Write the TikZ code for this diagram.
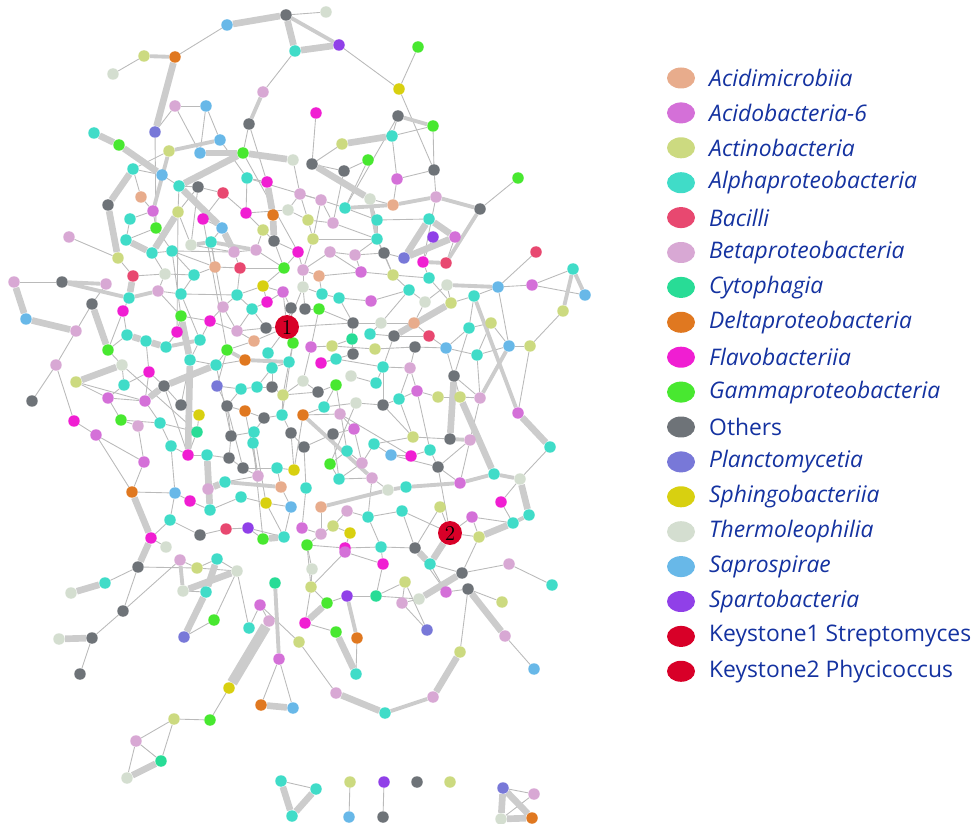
\documentclass[tikz,border=0pt]{standalone}
\usepackage{fontspec}
\setsansfont{Open Sans}
\usetikzlibrary{shapes.geometric,backgrounds}

\definecolor{cacm}{RGB}{232,172,140}
\definecolor{cac6}{RGB}{212,112,216}
\definecolor{cact}{RGB}{204,218,128}
\definecolor{calp}{RGB}{64,220,200}
\definecolor{cbac}{RGB}{232,72,112}
\definecolor{cbet}{RGB}{216,168,212}
\definecolor{ccyt}{RGB}{40,220,150}
\definecolor{cdel}{RGB}{224,120,32}
\definecolor{cfla}{RGB}{240,30,210}
\definecolor{cgam}{RGB}{72,232,48}
\definecolor{coth}{RGB}{110,115,120}
\definecolor{cpla}{RGB}{120,120,216}
\definecolor{csph}{RGB}{216,208,16}
\definecolor{cthe}{RGB}{212,222,208}
\definecolor{csap}{RGB}{104,184,232}
\definecolor{cspa}{RGB}{144,64,232}
\definecolor{ckey}{RGB}{216,0,40}
\definecolor{cleg}{RGB}{20,50,160}

\begin{document}
\begin{tikzpicture}[x=0.02cm,y=-0.02cm,
  dot/.style={circle,inner sep=0pt,minimum size=0.23cm},
  keyst/.style={circle,inner sep=0pt,minimum size=0.48cm,fill=ckey,font=\large},
  lnk/.style={draw=black!27,line width=0.5pt},
  midlnk/.style={draw=black!20,line width=2.2pt},
  thklnk/.style={draw=black!20,line width=3.8pt},
  legdot/.style={ellipse,inner sep=0pt,minimum width=0.56cm,minimum height=0.42cm},
  legtxt/.style={anchor=west,text=cleg,font=\sffamily\fontsize{13}{15}\selectfont}]

\useasboundingbox (0,0) rectangle (971,824);

% network nodes
\foreach \i/\x/\y/\c in {
  1/227/25/sap, 2/286/15/oth, 3/295/51/alp, 4/175/57/del, 5/144/56/act,
  6/113/74/the, 7/263/92/bet, 8/175/106/bet, 9/206/106/sap, 10/249/124/oth,
  11/155/132/pla, 12/94/133/alp, 13/119/145/gam, 14/169/151/act, 15/220/140/sap,
  16/200/153/sap, 17/243/153/gam, 18/293/160/the, 19/133/169/alp, 20/162/175/sap,
  21/179/186/alp, 22/198/187/oth, 23/247/178/alp, 24/267/182/fla, 25/223/193/bac,
  26/300/194/bet, 27/141/197/acm, 28/108/205/oth, 29/153/211/ac6, 30/178/212/act,
  31/203/219/fla, 32/246/213/fla, 33/273/215/del, 34/288/210/the, 35/130/219/alp,
  36/156/228/gam, 37/222/228/sap, 38/263/230/act, 39/69/237/bet, 40/126/240/alp,
  41/211/242/alp, 42/274/241/oth, 43/152/253/alp, 44/172/251/alp, 45/191/245/the,
  46/234/252/bet, 47/256/250/bet, 48/298/252/fla, 49/118/258/act, 50/215/267/acm,
  51/240/268/bac, 52/284/268/gam, 53/133/276/bac, 54/165/274/the, 55/194/275/alp,
  56/14/282/bet, 57/62/282/oth,
  58/326/12/the, 59/339/45/spa, 60/418/47/gam, 61/399/89/sph, 62/316/113/fla,
  63/398/116/oth, 64/433/126/gam, 65/392/136/alp, 66/342/144/act, 67/368/160/gam,
  68/312/164/oth, 69/344/171/oth, 70/434/170/oth, 71/397/179/ac6, 72/518/178/gam,
  73/321/200/bet, 74/370/199/the, 75/393/205/acm, 76/436/197/bet, 77/480/209/oth,
  78/345/208/alp, 79/308/220/act, 80/333/223/bet, 81/377/220/alp, 82/429/219/alp,
  83/433/237/spa, 84/455/237/ac6, 85/313/239/act, 86/377/239/alp, 87/536/252/bac,
  88/573/269/alp, 90/330/252/bet, 91/355/255/bet, 92/384/253/oth,
  93/404/258/pla, 94/423/262/fla, 95/446/263/bac, 96/303/270/bet, 97/361/272/ac6,
  98/319/276/acm, 99/393/275/act, 100/429/278/alp,
  101/106/284/bet, 102/92/304/oth, 103/26/319/sap, 104/129/298/alp, 105/158/291/bet,
  106/181/294/alp, 107/123/311/fla, 108/76/331/bet, 109/127/335/alp, 110/146/341/alp,
  111/166/347/alp, 112/177/332/fla, 113/181/316/gam, 114/200/340/alp, 115/210/321/fla,
  116/223/307/bet, 117/237/295/alp, 118/252/309/alp, 119/263/286/sph, 120/267/302/fla,
  121/283/292/ac6, 122/291/308/oth, 124/266/328/oth, 125/237/331/bet,
  126/254/341/acm, 127/293/343/gam, 128/227/350/gam, 129/245/360/del, 130/268/353/alp,
  131/289/362/alp, 132/272/368/alp, 133/190/360/alp, 134/216/365/alp, 135/108/350/gam,
  136/122/365/the, 137/56/365/bet, 138/76/382/act, 139/149/372/fla, 140/124/385/alp,
  141/164/386/oth, 142/217/386/pla, 143/241/389/alp, 144/257/387/alp, 145/272/387/oth,
  146/283/395/act, 147/32/401/oth, 148/108/398/ac6, 149/145/401/ac6, 150/181/405/oth,
  151/227/406/oth, 152/245/411/del, 153/264/418/oth, 154/282/415/alp, 155/199/415/sph,
  156/74/421/fla, 157/121/420/gam, 158/138/426/bet, 159/160/423/alp, 160/197/432/cyt,
  161/231/436/oth, 162/254/432/alp, 163/291/433/oth, 164/96/435/ac6, 165/171/446/alp,
  166/253/443/alp, 167/188/455/fla, 168/207/455/alp, 169/229/458/oth, 170/243/468/oth,
  171/277/468/alp, 172/294/470/sph, 173/144/462/ac6, 174/258/476/bet, 175/225/482/alp,
  176/208/489/bet, 177/281/487/acm, 178/132/492/del, 179/175/493/sap, 180/190/501/fla,
  181/241/497/alp, 182/266/503/sph, 183/291/507/sap, 184/210/510/alp, 185/170/520/alp,
  186/226/529/bac, 187/248/528/spa, 188/263/539/gam, 189/284/537/alp, 190/200/535/oth,
  191/151/538/fla, 193/166/547/the,
  194/447/285/the, 195/498/287/sap, 196/532/285/ac6, 197/585/295/sap, 198/563/311/act,
  199/303/287/the, 200/322/294/alp, 201/339/298/alp, 202/371/301/ac6, 203/409/290/alp,
  204/425/302/the, 205/451/303/act, 206/474/296/alp, 207/305/309/oth, 208/319/309/gam,
  209/353/323/oth, 210/381/323/the, 211/414/323/acm, 212/469/328/alp, 213/491/323/act,
  214/370/334/alp, 215/394/336/oth, 216/429/336/bac, 217/352/339/cyt, 218/311/347/ac6,
  219/332/346/act, 220/375/349/act, 221/415/347/oth, 222/446/348/sap, 223/477/355/alp,
  224/509/346/sap, 225/530/346/act, 226/353/354/oth, 227/321/363/fla, 228/336/359/alp,
  229/383/367/alp, 230/410/368/bet, 231/303/381/the, 232/351/376/the, 233/376/383/alp,
  234/336/385/gam, 235/454/376/oth, 236/318/392/oth, 237/417/391/ac6, 238/438/397/act,
  239/460/397/act, 240/480/398/bet, 241/399/399/alp, 242/356/403/the, 243/383/405/oth,
  244/324/407/alp, 245/303/415/del, 246/340/414/bet, 247/518/413/ac6, 248/354/429/ac6,
  249/333/434/oth, 250/304/447/oth, 251/413/437/act, 252/450/439/oth, 253/470/440/bet,
  254/374/444/alp, 255/347/451/alp, 256/550/447/alp, 257/391/455/sap, 258/411/456/fla,
  259/430/450/alp, 260/362/463/bet, 261/330/464/gam, 262/438/467/oth, 263/494/474/alp,
  264/339/479/alp, 265/372/478/bet, 266/460/483/ac6, 267/520/479/the, 268/306/488/alp,
  269/388/490/the, 270/406/487/alp, 271/501/502/fla, 272/321/507/acm, 273/347/511/bet,
  274/402/511/alp, 275/440/507/act, 276/368/517/alp, 277/472/517/ac6, 278/529/515/alp,
  279/513/523/alp, 281/333/526/act, 282/350/533/sph, 283/302/528/ac6,
  284/321/534/bet, 285/479/537/act, 286/307/545/gam, 287/345/548/fla, 288/381/547/alp,
  289/415/548/oth,
  290/180/560/bet, 291/197/568/act, 292/217/559/alp, 293/237/571/the, 294/138/567/oth,
  295/105/583/alp, 296/71/593/the, 297/183/591/the, 298/206/592/alp, 299/275/583/cyt,
  300/123/611/oth, 301/260/605/ac6, 302/269/621/bet, 303/214/620/gam, 304/249/628/alp,
  305/92/638/oth, 306/59/639/the, 307/184/637/pla, 308/299/642/act, 309/279/659/ac6,
  310/80/674/oth, 311/229/688/sph, 312/261/705/del, 313/293/708/sap, 314/174/719/act,
  315/210/720/gam, 316/136/741/bet, 317/161/761/cyt, 318/127/778/the, 319/281/781/alp,
  320/292/816/alp,
  321/345/552/ac6, 322/383/564/fla, 323/430/564/alp, 324/509/564/bet, 325/552/585/alp,
  326/312/569/the, 327/311/587/act, 328/405/582/act, 329/462/573/oth, 330/468/589/oth,
  331/446/592/ac6, 332/502/602/act, 333/327/603/gam, 334/347/596/spa, 335/376/596/cyt,
  336/402/603/bet, 337/419/599/the, 338/305/623/fla, 339/336/632/gam, 340/357/638/del,
  341/427/630/pla, 342/505/636/bet, 343/460/652/act, 344/534/669/sap, 345/356/674/alp,
  346/336/693/bet, 347/433/697/bet, 348/385/713/alp, 349/316/789/alp, 350/350/782/act,
  351/349/817/sap, 352/384/782/spa, 353/383/817/oth, 354/417/782/oth, 355/450/782/act,
  356/503/788/pla, 357/534/794/bet, 358/501/819/the, 359/532/818/del}
  \node[dot,fill=c\c] (n\i) at (\x,\y) {};

% keystones
\node[keyst] (n123) at (287,327) {1};
\node[keyst] (n280) at (450,533) {2};

\begin{scope}[on background layer]
% thin links
\foreach \a/\b in {
  1/4, 5/6, 8/11, 8/9, 9/15, 8/16, 9/16, 15/23, 7/3, 10/17, 11/36, 20/21, 21/22,
  14/19, 19/20, 27/29, 27/19, 22/25, 22/30, 21/30, 23/24, 23/32, 25/32, 25/31, 29/36,
  29/35, 35/40, 31/37, 37/41, 38/47, 38/42, 42/48, 32/38, 32/34, 34/26, 18/26, 39/49,
  49/53, 43/54, 44/55, 44/50, 50/51, 51/52, 46/51, 52/48, 43/44, 36/44,
  2/58, 59/61, 60/61, 61/70, 63/65, 65/64, 66/68, 62/68, 68/69, 69/67, 67/78, 63/78,
  64/70, 70/71, 70/76, 71/75, 71/65, 77/72, 78/73, 78/81, 74/75, 79/80, 80/73, 79/85,
  85/86, 80/86, 83/94, 84/95, 92/93, 92/86, 87/195, 88/196, 90/91, 91/97, 96/90, 96/98,
  97/99, 100/94, 76/94, 69/80, 26/73, 81/82, 86/99, 99/100, 98/200, 96/199,
  56/57, 102/108, 102/101, 108/137, 137/147, 137/156, 156/164, 105/106, 104/107,
  107/109, 112/113, 113/115, 115/116, 116/117, 117/118, 118/120, 119/120, 120/121,
  121/122, 123/124, 123/122, 123/127, 123/126, 123/130, 123/199, 123/209, 124/125,
  125/126, 126/128, 130/132, 131/132, 133/134, 134/129, 135/136, 139/140, 140/148,
  140/136, 148/149, 148/138, 142/151, 142/143, 143/144, 144/145, 145/146, 150/141,
  150/155, 151/152, 152/153, 153/154, 151/161, 155/160, 157/158, 157/148, 158/173,
  159/165, 159/160, 162/161, 162/166, 163/154, 164/173, 165/167, 167/168, 168/169,
  169/170, 170/171, 171/172, 172/163, 174/175, 178/179, 179/180, 180/184, 184/181,
  181/182, 182/183, 185/191, 185/190, 190/186, 186/187, 187/188, 193/191, 174/170,
  106/114, 114/115, 116/125, 132/145, 146/131, 154/127, 127/131, 139/149, 160/167,
  194/205, 195/196, 196/197, 199/200, 200/201, 201/202, 202/203, 203/204, 205/206,
  206/195, 206/212, 207/208, 208/209, 209/210, 210/211, 211/216, 212/213, 212/222,
  214/215, 215/216, 216/222, 217/219, 218/219, 219/220, 220/221, 221/222, 222/223,
  224/225, 225/247, 223/240, 226/227, 227/228, 228/229, 229/230, 230/237, 231/236,
  232/233, 233/229, 234/236, 238/239, 239/240, 237/238, 241/237, 241/243, 242/243,
  242/244, 244/245, 245/246, 246/248, 248/249, 250/249, 251/252, 251/254, 254/257,
  257/258, 258/259, 259/262, 255/260, 255/261, 262/266, 267/256, 264/265, 265/269,
  271/279, 271/267, 274/280, 275/280, 276/274, 277/280, 277/279, 280/262, 281/282,
  281/284, 282/287, 283/284, 286/287, 287/288, 288/289, 198/225, 195/224, 213/223,
  217/226, 234/244, 243/251, 253/266, 261/264, 273/276, 272/284, 268/283, 250/268,
  322/321, 321/327, 323/329, 337/336, 328/336, 328/335, 328/341, 330/343, 346/308,
  330/332, 329/324, 324/325, 326/327, 327/333, 333/334, 340/345, 339/338, 335/334,
  335/337, 336/341, 322/335, 285/329, 342/344, 326/286,
  294/295, 294/291, 294/300, 300/290, 300/305, 305/310, 307/303, 303/293, 293/304,
  304/301, 301/302, 309/312, 309/313, 311/315, 315/314, 314/316, 314/317, 316/317,
  316/318, 291/293, 301/308, 319/349, 350/351, 352/353, 356/357, 357/358,
  10/24, 22/45, 30/45, 36/40, 44/46, 45/46, 46/47, 47/52, 50/55, 54/55, 53/54, 41/50,
  55/106, 54/105, 106/117, 117/119, 119/121, 105/113, 112/111, 114/133, 128/134,
  128/142, 125/118, 118/124, 122/127, 132/144, 146/154, 143/151, 153/162, 161/169,
  166/174, 171/177, 177/183, 182/189, 183/189, 163/250, 245/172, 236/146, 231/146,
  218/231, 208/218, 199/207, 201/209, 209/217, 210/214, 215/229, 221/230, 235/240,
  240/253, 253/262, 241/251, 254/260, 257/262, 265/276, 260/264, 273/281, 288/276,
  274/289, 275/289, 277/285, 289/331, 331/330, 323/331, 288/322, 287/321, 284/286,
  286/327, 338/327, 290/291, 291/292, 292/293, 297/298, 176/184, 179/185, 165/179,
  173/178, 164/178, 157/159, 149/159, 139/141, 110/139, 111/112, 107/135, 109/135,
  115/125, 74/81, 81/86, 86/91, 91/92, 73/85, 85/96, 90/97, 97/98, 92/99, 100/205,
  99/203, 204/211, 203/210, 194/204, 26/79, 34/79, 48/96, 42/52, 52/119, 51/117,
  17/48, 23/73, 31/128, 41/116, 44/113, 30/112, 136/160, 138/149, 151/170, 134/161,
  133/150, 141/167, 152/174, 162/182, 166/188, 187/189, 234/255, 242/261, 249/264,
  248/260, 246/258, 237/259, 230/241, 229/243, 212/235, 222/239, 213/224, 223/224,
  123/121, 280/285}
  \draw[lnk] (n\a) -- (n\b);
% medium links
\foreach \a/\b in {
  4/5, 14/15, 14/29, 45/41, 41/47, 7/10, 2/59, 63/64, 74/86, 75/76, 76/77, 77/95,
  78/75, 94/95, 88/197, 88/198, 57/101, 57/104, 104/105, 111/114, 128/129, 129/131,
  175/177, 194/195, 224/240, 206/247, 252/253, 266/263, 263/267, 272/269, 269/270,
  270/266, 278/279, 245/265, 334/340, 347/348, 290/297, 299/309}
  \draw[midlnk] (n\a) -- (n\b);
% thick links
\foreach \a/\b in {
  1/2, 2/3, 4/11, 16/17, 17/18, 12/13, 13/20, 19/28, 28/49, 17/21, 24/33, 33/42,
  30/43, 40/43, 21/37, 37/46, 3/59, 65/66, 68/74, 82/84, 93/82, 93/84,
  56/103, 103/108, 102/135, 109/110, 110/111, 113/133, 133/167, 136/138, 149/141,
  141/134, 175/176, 178/191, 188/189, 168/184, 53/104,
  205/215, 235/252, 239/263, 247/256, 267/278, 279/285, 280/323, 289/323, 329/337,
  330/342, 343/347, 348/346, 333/338, 339/345,
  295/296, 294/191, 305/306, 297/293, 292/298, 298/307, 312/313, 317/318, 319/320,
  349/320, 356/358, 358/359, 356/359}
  \draw[thklnk] (n\a) -- (n\b);
\draw[black!20,line width=6pt] (n302) -- (n311);
\end{scope}

% legend
\foreach \k/\c/\t/\s in {
  0/acm/Acidimicrobiia/\itshape, 1/ac6/Acidobacteria-6/\itshape,
  2/act/Actinobacteria/\itshape, 3/alp/Alphaproteobacteria/\itshape,
  4/bac/Bacilli/\itshape, 5/bet/Betaproteobacteria/\itshape,
  6/cyt/Cytophagia/\itshape, 7/del/Deltaproteobacteria/\itshape,
  8/fla/Flavobacteriia/\itshape, 9/gam/Gammaproteobacteria/\itshape,
  10/oth/Others/\upshape, 11/pla/Planctomycetia/\itshape,
  12/sph/Sphingobacteriia/\itshape, 13/the/Thermoleophilia/\itshape,
  14/sap/Saprospirae/\itshape, 15/spa/Spartobacteria/\itshape,
  16/key/Keystone1 Streptomyces/\upshape, 17/key/Keystone2 Phycicoccus/\upshape}
{
  \node[legdot,fill=c\c] (leg\k) at (681,{78+34.9*\k}) {};
  \node[legtxt] (legt\k) at (703,{78+34.9*\k}) {\s\t};
}
\end{tikzpicture}
\end{document}
